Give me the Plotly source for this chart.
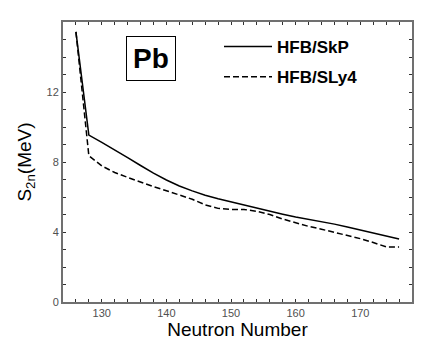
import plotly.graph_objects as go

neutron_number = [126, 128, 130, 132, 134, 136, 138, 140, 142, 144, 146, 148, 150,
                  152, 154, 156, 158, 160, 162, 164, 166, 168, 170, 172, 174, 176]
s2n_skp = [15.44, 9.54, 9.12, 8.70, 8.25, 7.80, 7.36, 6.97, 6.63, 6.35, 6.10, 5.90, 5.72,
           5.53, 5.36, 5.19, 5.02, 4.86, 4.73, 4.60, 4.45, 4.28, 4.12, 3.95, 3.78, 3.60]
s2n_sly4 = [15.44, 8.36, 7.78, 7.40, 7.12, 6.84, 6.59, 6.36, 6.12, 5.87, 5.55, 5.35, 5.29,
            5.29, 5.18, 5.00, 4.74, 4.51, 4.32, 4.16, 3.98, 3.82, 3.62, 3.40, 3.15, 3.15]

x_ticks = [130, 140, 150, 160, 170]
y_ticks = [0, 4, 8, 12]

fig = go.Figure()
fig.add_trace(go.Scatter(x=neutron_number, y=s2n_skp, mode="lines", name="<b>HFB/SkP</b>",
                         legendgroup="a",
                         line=dict(color="black", width=1.5)))
fig.add_trace(go.Scatter(x=neutron_number, y=s2n_sly4, mode="lines", name="<b>HFB/SLy4</b>",
                         legendgroup="b",
                         line=dict(color="black", width=1.5, dash="6px,3px")))

axis_common = dict(showline=True, linecolor="#707070", linewidth=2, mirror="allticks",
                   ticks="inside", ticklen=3, tickcolor="#303030", tickwidth=1,
                   showgrid=False, zeroline=False,
                   tickfont=dict(family="Liberation Sans, Arial", size=11, color="#505050"))

fig.update_xaxes(range=[124, 178], tickvals=x_ticks,
                 minor=dict(dtick=2, tick0=124, ticks="inside", ticklen=3, tickcolor="#303030"),
                 title=dict(text="Neutron Number", font=dict(family="Liberation Sans, Arial", size=19, color="black"),
                            standoff=4),
                 **axis_common)
fig.update_yaxes(range=[0, 16], tickvals=y_ticks,
                 minor=dict(dtick=1, tick0=0, ticks="inside", ticklen=3, tickcolor="#303030"),
                 title=dict(text="S<sub>2n</sub>(MeV)", font=dict(family="Liberation Sans, Arial", size=19, color="black"),
                            standoff=10),
                 **axis_common)

fig.add_annotation(xref="paper", yref="paper", x=0.251, y=0.871, text="<b>Pb</b>",
                   showarrow=False, font=dict(family="Liberation Sans, Arial", size=28, color="black"),
                   bordercolor="black", borderwidth=1, borderpad=6, bgcolor="white",
                   xanchor="center", yanchor="middle")

fig.update_layout(
    width=436, height=341,
    margin=dict(l=55, r=32, t=12, b=43),
    paper_bgcolor="white", plot_bgcolor="white",
    showlegend=True,
    legend=dict(x=0.447, y=0.975, xanchor="left", yanchor="top", bgcolor="rgba(0,0,0,0)",
                font=dict(family="Liberation Sans, Arial", size=17, color="black"),
                itemwidth=48, tracegroupgap=5),
)

fig.write_html("out.html")
